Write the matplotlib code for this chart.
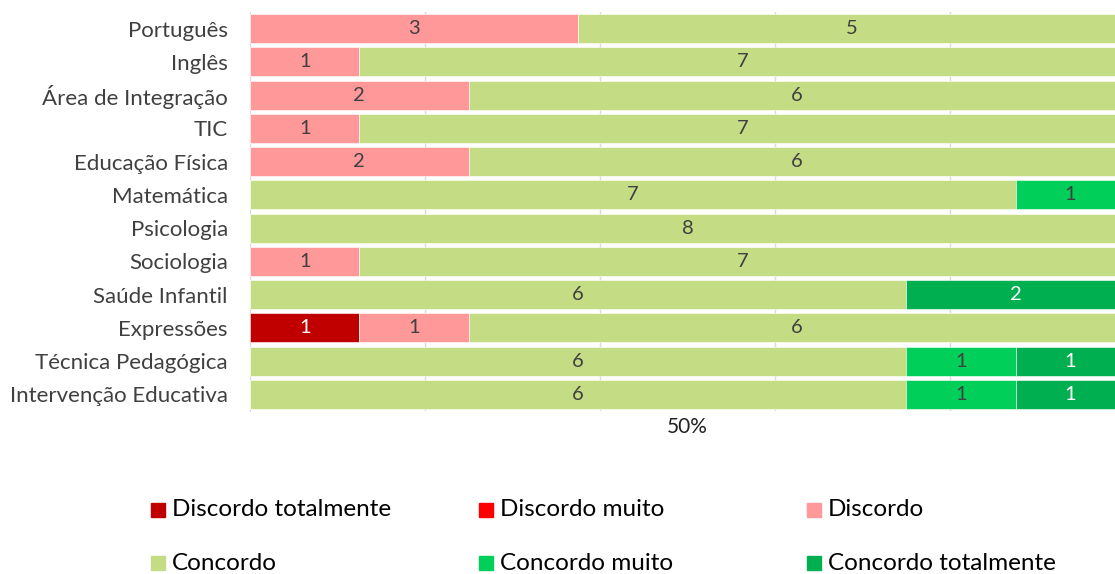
import matplotlib.pyplot as plt
from matplotlib.patches import Rectangle

plt.rcParams['font.family'] = ['Lato', 'DejaVu Sans']

categorias = ['Português', 'Inglês', 'Área de Integração', 'TIC', 'Educação Física',
              'Matemática', 'Psicologia', 'Sociologia', 'Saúde Infantil', 'Expressões',
              'Técnica Pedagógica', 'Intervenção Educativa']

series = ['Discordo totalmente', 'Discordo muito', 'Discordo',
          'Concordo', 'Concordo muito', 'Concordo totalmente']

disc_total = [0, 0, 0, 0, 0, 0, 0, 0, 0, 1, 0, 0]
disc_muito = [0, 0, 0, 0, 0, 0, 0, 0, 0, 0, 0, 0]
discordo   = [3, 1, 2, 1, 2, 0, 0, 1, 0, 1, 0, 0]
concordo   = [5, 7, 6, 7, 6, 7, 8, 7, 6, 6, 6, 6]
conc_muito = [0, 0, 0, 0, 0, 1, 0, 0, 0, 0, 1, 1]
conc_total = [0, 0, 0, 0, 0, 0, 0, 0, 2, 0, 1, 1]

valores = [disc_total, disc_muito, discordo, concordo, conc_muito, conc_total]
cores = ['#C00000', '#FF0000', '#FF9999', '#C4DC84', '#00D05A', '#00B050']
cor_txt = ['white', '#404040', '#404040', '#404040', '#404040', 'white']

fig = plt.figure(figsize=(11.15, 5.74), dpi=100)
ax = fig.add_axes([250/1115, 1-411/574, 875/1115, 399/574])

y = list(range(len(categorias)))
left = [0]*len(categorias)
for nome, vals, c, tc in zip(series, valores, cores, cor_txt):
    bars = ax.barh(y, vals, left=left, height=0.87, color=c, edgecolor='white',
                   linewidth=0.4, label=nome, zorder=2)
    ax.bar_label(bars, labels=[str(v) if v else '' for v in vals],
                 label_type='center', color=tc, fontsize=14.5)
    left = [a+b for a, b in zip(left, vals)]

ax.set_xlim(0, 8)
ax.set_ylim(len(categorias)-0.5, -0.5)
ax.set_yticks(y)
ax.set_yticklabels(categorias, fontsize=16, color='#404040')
ax.set_xticks([4])
ax.set_xticklabels(['50%'], fontsize=15, color='#222222')
ax.set_xticks([1.6, 3.2, 4.8, 6.4], minor=True)
ax.tick_params(axis='both', which='both', length=0)
ax.tick_params(axis='y', pad=16)
ax.tick_params(axis='x', pad=4)
ax.grid(axis='x', which='minor', color='#D9D9D9', linewidth=1, zorder=0)
for s in ['top', 'right', 'bottom']:
    ax.spines[s].set_visible(False)
ax.spines['left'].set_color('#D9D9D9')
ax.spines['left'].set_zorder(0)

# legenda
xs = [151, 479, 807]
ys = [510, 563]
for i, (nome, c) in enumerate(zip(series, cores)):
    px = xs[i % 3]
    py = ys[i // 3]
    fig.add_artist(Rectangle((px/1115, 1-(py+7)/574), 14/1115, 14/574,
                             transform=fig.transFigure, color=c))
    fig.text((px+21)/1115, 1-py/574, nome, fontsize=17.5, va='center', ha='left',
             color='black')

plt.savefig('out.png', dpi=100)
